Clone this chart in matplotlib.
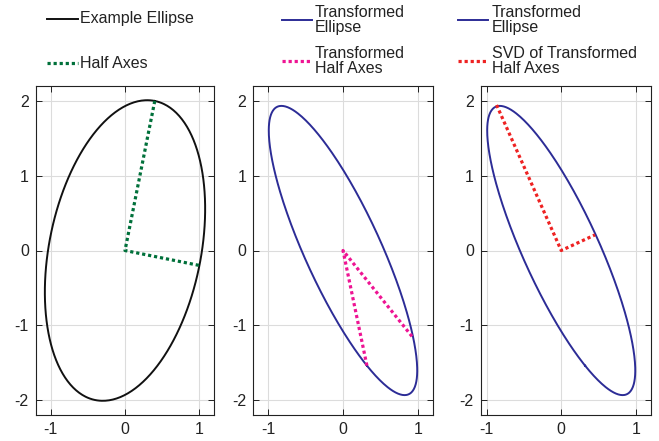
import numpy as np
import matplotlib
matplotlib.use("Agg")
import matplotlib.pyplot as plt
from matplotlib.lines import Line2D

plt.rcParams['font.family'] = ['Liberation Sans', 'DejaVu Sans']
plt.rcParams['axes.unicode_minus'] = False

# Half axes of the example ellipse (columns: major, minor)
half_axes = np.array([[0.40, 1.00],
                      [2.00, -0.20]])
# Transformed half axes (A @ half_axes)
trans_half_axes = np.array([[0.32, 0.94],
                            [-1.54, -1.17]])
# SVD half axes of the transformed ellipse
svd_half_axes = np.array([[-0.867, 0.453],
                          [1.946, 0.209]])

xlims = [(-1.2, 1.2), (-1.2, 1.2), (-1.08, 1.2)]
ylim = (-2.2, 2.2)
xticks = [-1, 0, 1]
yticks = [-2, -1, 0, 1, 2]

col_ell = '#111111'
col_green = '#00703a'
col_blue = '#2c2c96'
col_pink = '#ee1493'
col_red = '#ee2222'

t = np.linspace(0, 2 * np.pi, 400)

def ellipse(H):
    return H[:, [0]] * np.cos(t) + H[:, [1]] * np.sin(t)

def axes_path(H):
    # origin -> first half axis, origin -> second half axis
    xs = [H[0, 0], 0, H[0, 1]]
    ys = [H[1, 0], 0, H[1, 1]]
    return xs, ys

W, Hh = 659, 441
fig = plt.figure(figsize=(W / 100, Hh / 100), dpi=100)

boxes_px = [(35.7, 214.3), (253.3, 432.7), (480.7, 650.7)]
top_px, bot_px = 86, 415

dot = dict(lw=2.3, dashes=(1, 0.9), dash_capstyle='butt', solid_capstyle='butt')

axs = []
for (l, r) in boxes_px:
    ax = fig.add_axes([l / W, 1 - bot_px / Hh, (r - l) / W, (bot_px - top_px) / Hh])
    axs.append(ax)

E0 = ellipse(half_axes)
E1 = ellipse(trans_half_axes)

axs[0].plot(E0[0], E0[1], color=col_ell, lw=1.4)
x, y = axes_path(half_axes)
axs[0].plot(x, y, color=col_green, **dot)

axs[1].plot(E1[0], E1[1], color=col_blue, lw=1.4)
x, y = axes_path(trans_half_axes)
axs[1].plot(x, y, color=col_pink, **dot)

axs[2].plot(E1[0], E1[1], color=col_blue, lw=1.4)
x, y = axes_path(svd_half_axes)
axs[2].plot(x, y, color=col_red, **dot)

for ax, xl in zip(axs, xlims):
    ax.set_xlim(*xl)
    ax.set_ylim(*ylim)
    ax.set_xticks(xticks)
    ax.set_yticks(yticks)
    ax.grid(True, color='#dcdcdc', lw=0.8)
    ax.set_axisbelow(True)
    ax.tick_params(direction='in', top=True, right=True, length=4, width=0.7,
                   labelsize=11.5, colors='#222222', pad=5)
    for s in ax.spines.values():
        s.set_linewidth(0.8)
        s.set_color('#222222')

# Legends (drawn in figure pixel coordinates)
def fig_line(x0, x1, y, color, dotted=False):
    kw = dict(color=color, transform=fig.transFigure)
    if dotted:
        kw.update(dot)
    else:
        kw.update(lw=1.4)
    fig.add_artist(Line2D([x0 / W, x1 / W], [1 - y / Hh, 1 - y / Hh], **kw))

def fig_label(x, y, s):
    fig.text(x / W, 1 - y / Hh, s, ha='left', va='center', fontsize=11.5,
             color='#222222', linespacing=1.0)

legend_entries = [
    (47, 78, 80, 19, col_ell, False, 'Example Ellipse'),
    (47, 78, 80, 63, col_green, True, 'Half Axes'),
    (282, 312, 315, 20, col_blue, False, 'Transformed\nEllipse'),
    (282, 312, 315, 61, col_pink, True, 'Transformed\nHalf Axes'),
    (458, 488, 492, 20, col_blue, False, 'Transformed\nEllipse'),
    (458, 488, 492, 61, col_red, True, 'SVD of Transformed\nHalf Axes'),
]
for x0, x1, xt, y, c, d, s in legend_entries:
    fig_line(x0, x1, y, c, d)
    fig_label(xt, y, s)

fig.savefig('out.png', dpi=100)
